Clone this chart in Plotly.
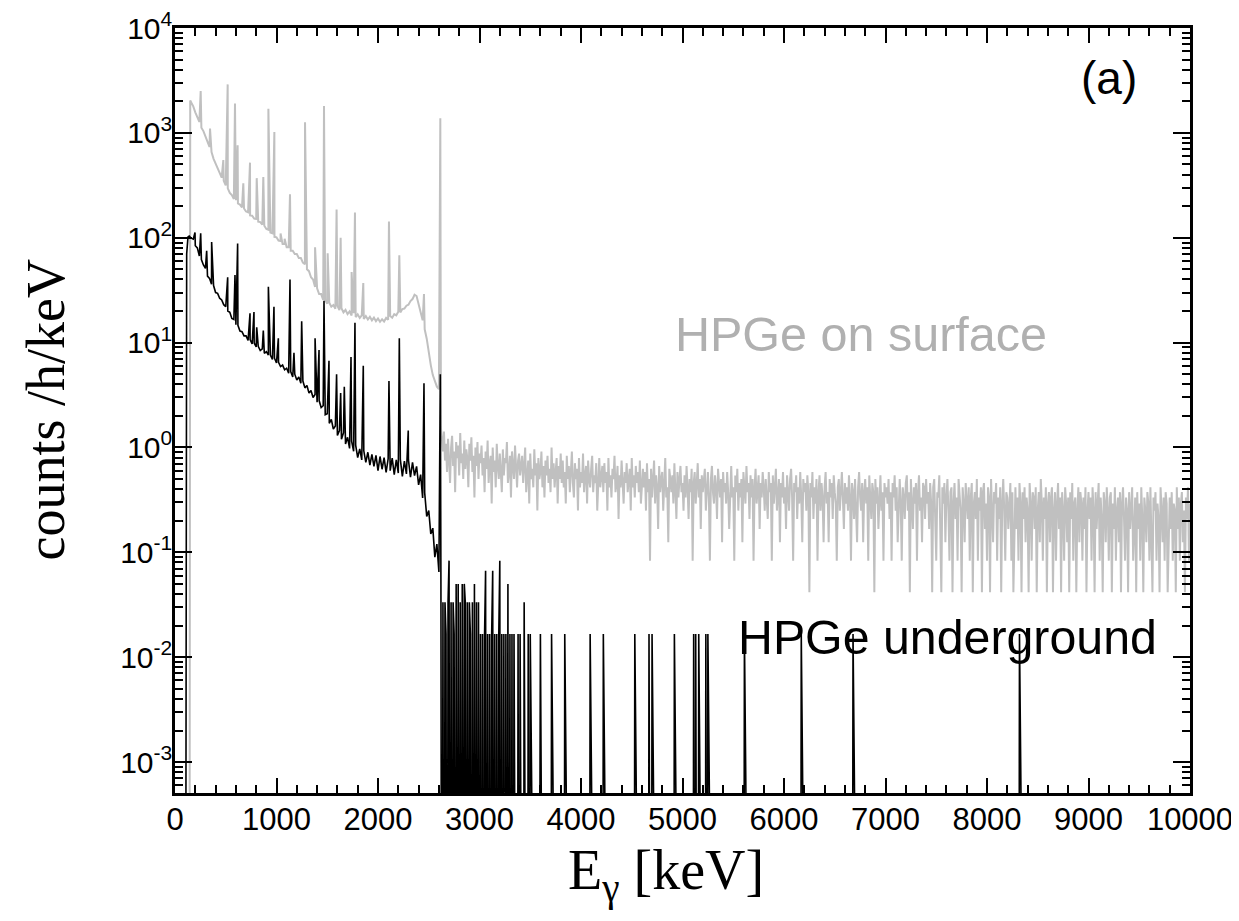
import numpy as np
import plotly.graph_objects as go

# ---------------- data ----------------
# Units: counts / h / keV.  Empty bins are 0.

# HPGe on surface (grey) ----------------------------------------------
surf_edge_E = [140, 150]
surf_edge_v = [0.0, 2040]

surf_cont_E0 = 160          # continuum samples every 20 keV from 160 keV
surf_cont_step = 20
surf_cont_v = [
    1950, 1790, 1570, 1410, 1270, 1120, 1040, 920, 830, 735,
    655, 565, 505, 445, 415, 375, 350, 315, 296, 268,
    255, 234, 228, 212, 207, 194, 190, 178, 175, 163,
    162, 152, 151, 142, 141, 133, 130, 121, 119, 112,
    110, 102, 101, 94, 93, 87, 87, 81, 81, 75,
    75, 70, 70, 64, 64, 58, 56, 50, 48, 42,
    40, 34, 33, 29, 29, 25.5, 25.5, 23.5, 24, 22,
    22.8, 21, 22.5, 20.4, 21.3, 19.4, 20.5, 18.7, 19.8, 18.1,
    19.1, 17.5, 18.6, 17.2, 18.2, 16.8, 17.9, 16.6, 17.6, 16.3,
    17.3, 16.0, 17.0, 15.8, 16.7, 15.9, 17.2, 16.5, 17.9, 17.3,
    18.7, 18.2, 19.7, 19.4, 20.9, 21.1, 22.5, 23.0, 24.9, 26.0,
    28.6, 27.8, 23.5, 19.6, 16.3, 13.4, 10.9, 7.9, 6.1, 4.9,
    4.2, 3.8, 3.6,
]

surf_peak_E = [253, 345, 476, 519, 591, 617, 673, 739, 805, 870,
               920, 979, 1040, 1080, 1133, 1281, 1380, 1468, 1504, 1592,
               1632, 1740, 1773, 1855, 2108, 2210, 2453, 2614]
surf_peak_v = [2500, 1100, 550, 2900, 1900, 760, 330, 520, 370, 380,
               1700, 1020, 110, 98, 260, 1260, 81, 1800, 71, 186,
               100, 47, 174, 37, 143, 68, 29, 1380]

surf_tail_E0 = 2620         # 10 keV bins above the 2614 keV line
surf_tail_step = 10
surf_count_unit = 1.0 / 24  # counts/h/keV for one count in a bin
surf_tail_counts = [
    37, 30, 22, 34, 18, 26, 14, 29, 20, 11, 24, 31, 16, 22, 9, 27, 19, 25, 13, 33,
    17, 21, 12, 28, 15, 23, 19, 10, 26, 18, 30, 14, 20, 8, 24, 16, 27, 12, 21, 17,
    25, 13, 19, 9, 22, 15, 28, 11, 17, 20, 7, 24, 14, 18, 10, 26, 16, 12, 21, 15,
    9, 23, 13, 19, 17, 27, 11, 14, 20, 8, 22, 16, 12, 25, 15, 10, 18, 21, 13, 17,
    20, 11, 16, 24, 9, 14, 18, 7, 21, 12, 15, 10, 23, 13, 17, 6, 19, 12, 14, 22,
    10, 16, 8, 18, 13, 20, 11, 15, 9, 24, 12, 17, 10, 14, 19, 7, 16, 12, 21, 11,
    18, 10, 14, 7, 20, 12, 16, 9, 13, 22, 11, 8, 17, 12, 15, 6, 19, 10, 14, 11,
    21, 9, 13, 16, 7, 18, 12, 10, 15, 20, 9, 13, 11, 17, 6, 14, 19, 10, 12, 16,
    9, 17, 11, 14, 6, 19, 10, 13, 8, 15, 12, 20, 9, 11, 16, 5, 13, 10, 18, 12,
    7, 14, 11, 17, 9, 12, 15, 6, 19, 10, 13, 8, 16, 11, 14, 9, 18, 7, 12, 15,
    10, 14, 6, 17, 9, 12, 2, 15, 8, 11, 18, 7, 13, 10, 4, 16, 9, 12, 14, 6,
    11, 19, 8, 10, 3, 15, 12, 9, 13, 7, 17, 10, 5, 14, 8, 12, 16, 9, 11, 6,
    13, 8, 16, 10, 5, 12, 9, 15, 2, 11, 14, 7, 10, 17, 8, 12, 4, 13, 9, 11,
    15, 6, 10, 14, 8, 2, 12, 16, 9, 7, 13, 10, 5, 15, 11, 8, 12, 3, 14, 9,
    11, 7, 14, 9, 4, 12, 16, 8, 10, 2, 13, 9, 15, 6, 11, 8, 12, 3, 14, 10,
    7, 16, 9, 11, 5, 13, 8, 12, 2, 10, 15, 7, 9, 13, 4, 11, 8, 14, 10, 6,
    12, 8, 5, 14, 9, 11, 2, 13, 7, 10, 15, 6, 9, 12, 3, 11, 8, 14, 7, 10,
    4, 13, 9, 6, 12, 15, 8, 2, 11, 9, 13, 5, 10, 7, 14, 8, 3, 12, 9, 11,
    6, 13, 9, 1, 11, 8, 14, 5, 10, 7, 12, 2, 9, 13, 6, 11, 8, 3, 10, 14,
    7, 9, 3, 12, 8, 11, 5, 13, 9, 7, 2, 10, 12, 6, 9, 14, 8, 4, 11, 7,
    10, 6, 13, 8, 2, 11, 9, 5, 12, 7, 3, 10, 14, 8, 6, 11, 3, 9, 12, 7,
    10, 2, 13, 8, 5, 11, 9, 1, 12, 7, 10, 4, 8, 13, 6, 9, 2, 11, 8, 10,
    7, 12, 5, 9, 2, 11, 8, 13, 6, 10, 3, 9, 12, 7, 2, 10, 8, 5, 11, 13,
    6, 9, 1, 12, 8, 4, 10, 7, 11, 2, 9, 13, 6, 8, 3, 11, 10, 5, 12, 7,
    9, 4, 11, 7, 1, 10, 12, 6, 2, 9, 8, 13, 5, 1, 10, 7, 11, 3, 8, 12,
    6, 2, 9, 10, 1, 7, 11, 5, 8, 2, 12, 9, 6, 1, 10, 7, 3, 11, 8, 5,
    10, 2, 8, 11, 1, 7, 9, 5, 12, 2, 8, 6, 10, 1, 9, 11, 4, 7, 2, 10,
    8, 1, 12, 6, 3, 9, 7, 11, 2, 8, 5, 10, 1, 7, 12, 6, 2, 9, 8, 4,
    7, 11, 2, 9, 1, 6, 10, 4, 8, 2, 11, 7, 1, 9, 5, 10, 3, 8, 6, 1,
    11, 7, 2, 9, 8, 4, 10, 1, 6, 9, 3, 12, 7, 2, 8, 5, 10, 1, 7, 9,
    3, 8, 10, 1, 6, 9, 2, 7, 11, 4, 8, 1, 9, 6, 2, 10, 7, 3, 8, 1,
    9, 5, 11, 2, 7, 8, 1, 6, 10, 3, 9, 7, 2, 8, 4, 10, 1, 6, 9, 5,
    8, 2, 10, 6, 1, 9, 4, 7, 11, 2, 8, 5, 1, 9, 7, 3, 10, 6, 2, 8,
    9, 1, 7, 4, 10, 2, 6, 8, 3, 9, 1, 7, 10, 5, 2, 8, 6, 1, 9, 4,
    7, 10, 2, 6, 8, 1, 9, 4, 7, 2, 10, 5, 1, 8, 6, 3, 9, 7, 2, 10,
    4, 1, 8, 6, 9, 2, 7, 5, 1, 10, 6, 3, 8, 2, 9, 7, 1, 5, 8, 4,
    9, 2, 7, 6, 1, 10, 4, 8, 2, 7, 9, 3, 6, 1, 8, 5, 10, 2, 7,
]

# HPGe underground (black) --------------------------------------------
under_edge_E = [100, 115, 128]
under_edge_v = [0.0, 70, 102]

under_cont_E0 = 140
under_cont_step = 20
under_cont_v = [
    104, 99, 97, 84, 80, 67, 62, 55, 51, 43,
    41, 36, 35, 30, 29.5, 26.5, 25.5, 23, 22, 20,
    19.5, 17, 16.6, 14.8, 14.6, 12.9, 12.7, 11.6, 11.6, 10.5,
    10.7, 9.7, 9.9, 9.1, 9.2, 8.4, 8.7, 7.9, 8.2, 7.6,
    7.6, 6.9, 7.1, 6.4, 6.5, 5.9, 6.1, 5.5, 5.7, 5.1,
    5.3, 4.7, 5.0, 4.4, 4.7, 4.1, 4.3, 3.7, 3.9, 3.3,
    3.5, 3.0, 3.2, 2.7, 2.8, 2.4, 2.5, 2.05, 2.1, 1.7,
    1.85, 1.5, 1.6, 1.3, 1.45, 1.2, 1.38, 1.08, 1.25, 0.98,
    1.15, 0.92, 1.05, 0.8, 0.97, 0.76, 0.93, 0.72, 0.9, 0.68,
    0.86, 0.66, 0.84, 0.6, 0.82, 0.62, 0.8, 0.58, 0.78, 0.6,
    0.79, 0.55, 0.76, 0.57, 0.77, 0.53, 0.74, 0.56, 0.76, 0.52,
    0.72, 0.54, 0.66, 0.44, 0.55, 0.33, 0.37, 0.22, 0.25, 0.15,
    0.17, 0.09, 0.12, 0.065,
]

under_peak_E = [197, 253, 312, 361, 519, 591, 617, 739, 778, 805,
                870, 920, 975, 1018, 1133, 1172, 1248, 1380, 1419, 1468,
                1517, 1592, 1632, 1668, 1734, 1773, 1855, 2108, 2210, 2298,
                2453, 2614]
under_peak_v = [112, 110, 75, 91, 42, 44, 88, 19, 19.6, 14,
                13, 34, 22, 11, 40, 8, 16, 11, 8.5, 25,
                6.7, 5.0, 3.3, 3.8, 7.3, 15.5, 6.0, 4.3, 11, 1.45,
                4.1, 5.0]

under_tail_E0 = 2620        # 10 keV bins above the 2614 keV line
under_tail_step = 10
under_tail_end = 10000
under_count_unit = 1.0 / 60
under_tail_counts = [       # 2620 ... 3350 keV
    3, 0, 2, 0, 2, 1, 0, 2, 5, 0, 2, 0, 2, 1, 0, 3, 0, 3, 0, 2,
    0, 3, 0, 3, 2, 0, 2, 0, 2, 1, 0, 2, 0, 3, 0, 2, 0, 2, 0, 1,
    0, 1, 0, 1, 4, 0, 1, 0, 1, 0, 1, 4, 0, 1, 0, 1, 0, 1, 5, 0,
    1, 0, 1, 0, 1, 0, 3, 0, 1, 0, 1, 0, 1, 0,
]
under_event_E = [3382, 3399, 3438, 3485, 3497, 3602, 3714, 3835, 4089, 4220,
                 4531, 4672, 4696, 4916, 5113, 5132, 5165, 5231, 5250, 5606,
                 6167, 6680, 8325]
under_event_counts = [1, 1, 2, 1, 1, 1, 1, 1, 1, 1,
                      1, 1, 1, 1, 1, 1, 1, 1, 1, 1,
                      1, 1, 1]

y_tick_vals = [1e-3, 1e-2, 1e-1, 1e0, 1e1, 1e2, 1e3, 1e4]
y_tick_text = ["10<sup>-3</sup>", "10<sup>-2</sup>", "10<sup>-1</sup>", "10<sup>0</sup>",
               "10<sup>1</sup>", "10<sup>2</sup>", "10<sup>3</sup>", "10<sup>4</sup>"]
x_tick_vals = [0, 1000, 2000, 3000, 4000, 5000, 6000, 7000, 8000, 9000, 10000]
x_tick_text = [str(v) for v in x_tick_vals]

# ---------------- assemble the spectra ----------------
EMPTY_BIN = 1e-9   # empty bins drop below the lower edge of the log axis


def merged(*parts):
    E = np.concatenate([np.asarray(p[0], float) for p in parts])
    v = np.concatenate([np.asarray(p[1], float) for p in parts])
    order = np.argsort(E, kind="stable")
    E, v = E[order], v[order]
    return E, np.where(v > 0, v, EMPTY_BIN)


surf_cont_E = surf_cont_E0 + surf_cont_step * np.arange(len(surf_cont_v))
surf_tail_E = surf_tail_E0 + surf_tail_step * np.arange(len(surf_tail_counts))
surf_tail_v = np.asarray(surf_tail_counts, float) * surf_count_unit
sx, sy = merged((surf_edge_E, surf_edge_v), (surf_cont_E, surf_cont_v),
                (surf_peak_E, surf_peak_v), (surf_tail_E, surf_tail_v))

under_cont_E = under_cont_E0 + under_cont_step * np.arange(len(under_cont_v))
tail_E = np.arange(under_tail_E0, under_tail_end + 1, under_tail_step)
tail_counts = np.zeros(len(tail_E))
tail_counts[:len(under_tail_counts)] = under_tail_counts
for e, c in zip(under_event_E, under_event_counts):
    tail_counts[int(round((e - under_tail_E0) / under_tail_step))] = c
ux, uy = merged((under_edge_E, under_edge_v), (under_cont_E, under_cont_v),
                (under_peak_E, under_peak_v), (tail_E, tail_counts * under_count_unit))

# ---------------- figure ----------------
fig = go.Figure()
fig.add_trace(go.Scatter(x=sx, y=sy, mode="lines",
                         line=dict(color="#c0c0c0", width=2.0), hoverinfo="skip"))
fig.add_trace(go.Scatter(x=ux, y=uy, mode="lines",
                         line=dict(color="#000000", width=1.6), hoverinfo="skip"))

xtickfont = dict(family="Liberation Sans, Arial, sans-serif", size=31, color="black")
ytickfont = dict(family="Liberation Sans, Arial, sans-serif", size=30, color="black")
fig.update_xaxes(range=[0, 10000], tickmode="array", tickvals=x_tick_vals, ticktext=x_tick_text,
                 ticks="inside", ticklen=15, tickwidth=2, tickcolor="black",
                 showline=True, linewidth=2.5, linecolor="black", mirror="allticks",
                 showgrid=False, zeroline=False, tickfont=xtickfont, ticklabelstandoff=-3,
                 ticklabeloverflow="allow", automargin=False,
                 minor=dict(ticks="inside", ticklen=8, tickwidth=2, tickcolor="black",
                            dtick=200, showgrid=False))
fig.update_yaxes(type="log", range=[np.log10(5.07e-4), 4], tickmode="array",
                 tickvals=y_tick_vals, ticktext=y_tick_text,
                 ticks="inside", ticklen=17, tickwidth=2, tickcolor="black",
                 showline=True, linewidth=2.5, linecolor="black", mirror="allticks",
                 showgrid=False, zeroline=False, tickfont=ytickfont, ticklabelstandoff=-6,
                 ticklabeloverflow="allow", automargin=False,
                 minor=dict(ticks="inside", ticklen=8, tickwidth=2, tickcolor="black",
                            dtick="D1", showgrid=False))

serif = "Liberation Serif, Times New Roman, serif"
sans = "Liberation Sans, Arial, sans-serif"
# the page body adds an 8 px margin on every side, so the figure is smaller than
# the window (avoids scrollbars) and the margins are shifted by 8 px
fig.update_layout(
    width=1231, height=905,
    margin=dict(l=167, r=49, t=20, b=120),
    paper_bgcolor="white", plot_bgcolor="white",
    showlegend=False,
    annotations=[
        dict(text="counts /h/keV", xref="paper", yref="paper", x=-0.128, y=0.50,
             textangle=-90, showarrow=False, font=dict(family=serif, size=54, color="black"),
             xanchor="center", yanchor="middle"),
        dict(text="E<sub>γ</sub> [keV]", xref="paper", yref="paper", x=0.484, y=-0.106,
             showarrow=False, font=dict(family=serif, size=56, color="black"),
             xanchor="center", yanchor="middle"),
        dict(text="(a)", xref="paper", yref="paper", x=0.920, y=0.935, showarrow=False,
             font=dict(family=sans, size=46, color="black"), xanchor="center", yanchor="middle"),
        dict(text="HPGe on surface", xref="paper", yref="paper", x=0.676, y=0.600,
             showarrow=False, font=dict(family=sans, size=48.5, color="#b0b0b0"),
             xanchor="center", yanchor="middle"),
        dict(text="HPGe underground", xref="paper", yref="paper", x=0.761, y=0.204,
             showarrow=False, font=dict(family=sans, size=48.3, color="black"),
             xanchor="center", yanchor="middle"),
    ],
)

fig.write_html("out.html")
